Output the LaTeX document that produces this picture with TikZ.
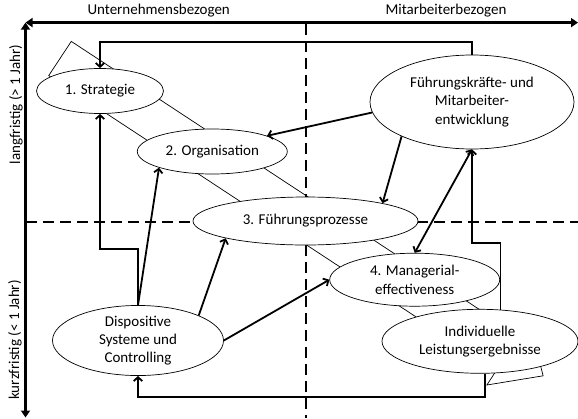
\documentclass[tikz,border=0pt]{standalone}
\usepackage{fontspec}
\setmainfont{Carlito}
\usetikzlibrary{shapes.geometric,arrows.meta,calc}

\tikzset{
  bubble/.style={ellipse, draw=black, line width=0.7pt, fill=white, inner sep=0pt,
    align=center, font=\fontsize{15}{18.3}\selectfont},
  conn/.style={line width=1.8pt, line join=miter},
  tip/.style={-{Straight Barb[length=4pt,width=8.5pt]}},
  dtip/.style={{Straight Barb[length=4pt,width=8.5pt]}-{Straight Barb[length=4pt,width=8.5pt]}},
  axis/.style={line width=2.6pt, {Triangle[length=7pt,width=9pt]}-{Triangle[length=7pt,width=9pt]}},
  divider/.style={line width=2pt, dash pattern=on 11pt off 6pt},
  band/.style={draw=black, line width=0.7pt},
  axislabel/.style={font=\fontsize{15}{18}\selectfont, inner sep=0pt}
}

\begin{document}
\begin{tikzpicture}[x=1pt,y=-1pt]
  \useasboundingbox (0,0) rectangle (578,418);

  % broad arrow in the background, running from long-term/company to short-term/employee
  \draw[band] (71.3,41.4) -- (519.3,335.7) -- (529.1,320.6) -- (543.1,375.8)
              -- (486.9,385.0) -- (496.7,369.9) -- (48.7,75.6) -- cycle;

  % quadrant dividers
  \coordinate (dtop) at (306,24);
  \coordinate (dbot) at (306,418);
  \coordinate (dleft) at (26,221.7);
  \coordinate (dright) at (578,221.7);
  \draw[divider] (dtop) -- (dbot);
  \draw[divider] (dleft) -- (dright);

  % axes
  \coordinate (corner) at (25.5,22.6);
  \coordinate (xend) at (578,22.6);
  \coordinate (yend) at (25.5,417.5);
  \draw[axis] (corner) -- (xend);
  \draw[axis] (corner) -- (yend);

  % axis labels
  \node[axislabel] (lblU) at (158.7,11) {Unternehmensbezogen};
  \node[axislabel] (lblM) at (446,11) {Mitarbeiterbezogen};
  \node[axislabel, rotate=90] (lblL) at (16,104.5) {langfristig (> 1 Jahr)};
  \node[axislabel, rotate=90] (lblK) at (15,340) {kurzfristig (< 1 Jahr)};

  % fields
  \node[bubble, minimum width=127pt, minimum height=45pt] (e1) at (100,91) {1. Strategie};
  \node[bubble, minimum width=150pt, minimum height=45pt] (e2) at (212.3,151.5) {2. Organisation};
  \node[bubble, minimum width=225pt, minimum height=48pt] (e3) at (305.5,221) {3. Führungsprozesse};
  \node[bubble, minimum width=170pt, minimum height=53pt] (e4) at (414.7,279.7) {4. Managerial-\\effectiveness};
  \node[bubble, minimum width=196pt, minimum height=64pt] (e5) at (480,341.3) {Individuelle\\Leistungsergebnisse};
  \node[bubble, minimum width=204pt, minimum height=94pt] (e6) at (472,102) {Führungskräfte- und\\Mitarbeiter-\\entwicklung};
  \node[bubble, minimum width=171pt, minimum height=66pt] (e7) at (138,340.5) {Dispositive\\Systeme und\\Controlling};

  % routing levels of the elbow connectors
  \coordinate (topbar) at (0,41.7);
  \coordinate (lowbar) at (0,249.3);
  \coordinate (rbar) at (0,242.7);
  \coordinate (botbar) at (0,396.7);

  % connectors
  \draw[conn,tip] (e6.north) |- (e1.north |- topbar) -- (e1.north);
  \draw[conn,tip] (e7.north) |- (e1.south |- lowbar) -- (e1.south);
  \draw[conn,tip] (e7.north) -- (e2.south west);
  \draw[conn,tip] (e7.north east) -- (e3.south west);
  \draw[conn,tip] (e7.east) -- (e4.west);
  \draw[conn,tip] (e6.186) -- (e2.16);
  \draw[conn,tip] (e6.206) -- (e3.13);
  \draw[conn,dtip] (e6.south) -- (e4.north);
  \draw[conn,tip] (e5.57) |- (e6.south |- rbar) -- (e6.south);
  \draw[conn,tip] (e5.-81) |- (e7.south |- botbar) -- (e7.south);
\end{tikzpicture}
\end{document}
